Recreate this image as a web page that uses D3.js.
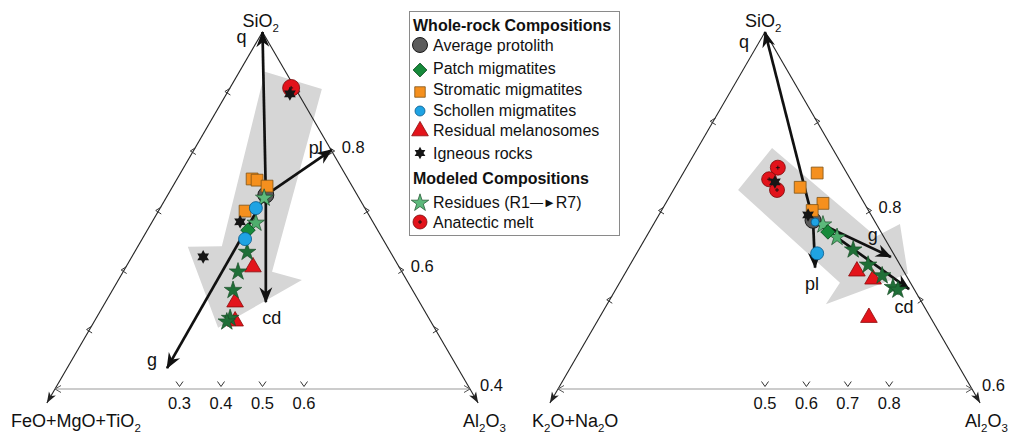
<!DOCTYPE html>
<html>
<head>
<meta charset="utf-8">
<script src="https://cdn.jsdelivr.net/npm/d3@7"></script>
<style>
body { margin: 0; background: #fff; }
svg text { font-family: Arial, "Liberation Sans", sans-serif; fill: #111; }
</style>
</head>
<body>
<svg id="chart" width="1015" height="437"></svg>
<script>
// values as [bottom-axis value, SiO2 value]
var L_protolith = [[0.508, 0.726]];
var L_stromatic = [[0.475, 0.753], [0.487, 0.751], [0.511, 0.741], [0.458, 0.699]];
var L_schollen = [[0.484, 0.704], [0.458, 0.652]];
var L_patch = [[0.465, 0.667]];
var L_melano = [[0.477, 0.605], [0.434, 0.546], [0.434, 0.514]];
var L_igneous = [[0.566, 0.896], [0.446, 0.681], [0.357, 0.622]];
var L_melt = [[0.569, 0.906]];
var L_residues = [[0.504, 0.721], [0.484, 0.679], [0.463, 0.630], [0.441, 0.597],
  [0.429, 0.566], [0.422, 0.519], [0.414, 0.513]];
var L_vectors = [['q', 0.5, 1.0], ['cd', 0.508, 0.546], ['pl', 0.667, 0.802], ['g', 0.270, 0.435]];
var L_shade = [[0.506, 0.933], [0.643, 0.904], [0.523, 0.597], [0.595, 0.583],
  [0.393, 0.503], [0.320, 0.639], [0.402, 0.640]];
var L_bottomTicks = [0.3, 0.4, 0.5, 0.6];
var L_edgeTicks = [0.9, 0.8, 0.7, 0.6, 0.5];
var L_edgeLabels = [0.8, 0.6, 0.4];

var R_protolith = [[0.616, 0.789]];
var R_stromatic = [[0.626, 0.842], [0.585, 0.826], [0.640, 0.808], [0.614, 0.800]];
var R_schollen = [[0.626, 0.752], [0.621, 0.787]];
var R_patch = [[0.652, 0.776]];
var R_melano = [[0.722, 0.732], [0.761, 0.723], [0.751, 0.680]];
var R_igneous = [[0.524, 0.832], [0.604, 0.795]];
var R_melt = [[0.531, 0.848], [0.510, 0.835], [0.529, 0.823]];
var R_residues = [[0.640, 0.784], [0.674, 0.770], [0.713, 0.756], [0.749, 0.739],
  [0.783, 0.727], [0.809, 0.714], [0.821, 0.711]];
var R_vectors = [['q', 0.5, 1.0], ['pl', 0.621, 0.736], ['g', 0.804, 0.748], ['cd', 0.848, 0.712]];
var R_shade = [[0.517, 0.870], [0.768, 0.771], [0.826, 0.785], [0.845, 0.729],
  [0.647, 0.695], [0.681, 0.719], [0.435, 0.823]];
var R_bottomTicks = [0.5, 0.6, 0.7, 0.8];
var R_edgeTicks = [0.9, 0.8, 0.7];
var R_edgeLabels = [0.8, 0.6];

var legendItems = ['Average protolith', 'Patch migmatites', 'Stromatic migmatites',
  'Schollen migmatites', 'Residual melanosomes', 'Igneous rocks'];

var svg = d3.select('#chart');

var defs = svg.append('defs');
defs.append('marker')
  .attr('id', 'head')
  .attr('markerUnits', 'userSpaceOnUse')
  .attr('viewBox', '-16 -8 18 16')
  .attr('markerWidth', 18).attr('markerHeight', 16)
  .attr('refX', 0).attr('refY', 0)
  .attr('orient', 'auto')
  .append('path')
  .attr('d', 'M1,0 L-15,-6.5 L-10,0 L-15,6.5 Z')
  .attr('fill', '#111');
defs.append('marker')
  .attr('id', 'small')
  .attr('markerUnits', 'userSpaceOnUse')
  .attr('viewBox', '-12 -5 13 10')
  .attr('markerWidth', 13).attr('markerHeight', 10)
  .attr('refX', 0).attr('refY', 0)
  .attr('orient', 'auto')
  .append('path')
  .attr('d', 'M0,0 L-11,-4 L-8,0 L-11,4 Z')
  .attr('fill', '#222');

var hexagram = {
  draw: function(ctx, size) {
    var r = Math.sqrt(size) * 0.62, ri = r * 0.56;
    for (var i = 0; i < 12; i++) {
      var a = Math.PI / 6 * i - Math.PI / 2;
      var rr = i % 2 ? ri : r;
      if (i === 0) ctx.moveTo(rr * Math.cos(a), rr * Math.sin(a));
      else ctx.lineTo(rr * Math.cos(a), rr * Math.sin(a));
    }
    ctx.closePath();
  }
};

var starColor = d3.scaleLinear().domain([0, 1, 2]).range(['#5db97b', '#4fae6d', '#1f6f37']).clamp(true);

function subLabel(g, x, y, parts) {
  var t = g.append('text').attr('x', x).attr('y', y).attr('font-size', 18);
  parts.forEach(function(p) {
    if (p[1]) {
      t.append('tspan').attr('font-size', 11.5).attr('dy', 5).text(p[0]);
    } else {
      t.append('tspan').attr('dy', p[2] || 0).text(p[0]);
    }
  });
}

function drawPanel(p) {
  var x = d3.scaleLinear().domain([0, 1]).range(p.xRange);
  var y = d3.scaleLinear().domain([p.sMin, 1]).range([389, 32]);
  var g = svg.append('g');

  var apex = [x(0.5), y(1)], cl = [x(0), y(p.sMin)], cr = [x(1), y(p.sMin)];
  function edgePt(side, s) {
    var t = (s - p.sMin) / (1 - p.sMin);
    var c = side === 'L' ? cl : cr;
    return [c[0] + (apex[0] - c[0]) * t, y(s)];
  }

  // grey trend arrow
  g.append('path')
    .datum(p.shade)
    .attr('d', d3.line().x(function(d) { return x(d[0]); }).y(function(d) { return y(d[1]); })
      .curve(d3.curveLinearClosed))
    .attr('fill', '#d6d6d6');

  // frame
  var ext = 14 / (cl[1] - apex[1]);
  [cl, cr].forEach(function(c) {
    g.append('line')
      .attr('x1', apex[0]).attr('y1', apex[1])
      .attr('x2', c[0] + (c[0] - apex[0]) * ext).attr('y2', c[1] + (c[1] - apex[1]) * ext)
      .attr('stroke', '#222').attr('stroke-width', 1.1)
      .attr('marker-end', 'url(#small)');
  });
  g.append('line')
    .attr('x1', cl[0]).attr('y1', cl[1]).attr('x2', cr[0]).attr('y2', cr[1])
    .attr('stroke', '#999').attr('stroke-width', 1);
  g.append('path')
    .attr('d', 'M' + (cl[0] + 6) + ',' + (cl[1] - 3.5) + 'L' + cl[0] + ',' + cl[1] + 'L' + (cl[0] + 6) + ',' + (cl[1] + 3.5) +
      'M' + (cr[0] - 6) + ',' + (cr[1] - 3.5) + 'L' + cr[0] + ',' + cr[1] + 'L' + (cr[0] - 6) + ',' + (cr[1] + 3.5))
    .attr('fill', 'none').attr('stroke', '#555').attr('stroke-width', 1);

  // ticks
  g.selectAll('.bt').data(p.bottomTicks).enter().append('path')
    .attr('d', function(d) { var tx = x(d); return 'M' + (tx - 3.5) + ',381.5L' + tx + ',386.5L' + (tx + 3.5) + ',381.5'; })
    .attr('fill', 'none').attr('stroke', '#333').attr('stroke-width', 1);
  g.selectAll('.btl').data(p.bottomTicks).enter().append('text')
    .attr('x', function(d) { return x(d); }).attr('y', 409)
    .attr('text-anchor', 'middle').attr('font-size', 16.5)
    .text(function(d) { return d.toFixed(1); });
  g.selectAll('.lt').data(p.edgeTicks).enter().append('path')
    .attr('d', function(d) { var e = edgePt('L', d); return 'M' + (e[0] + 2.5) + ',' + (e[1] - 3.5) + 'L' + (e[0] - 3) + ',' + e[1] + 'L' + (e[0] + 2.5) + ',' + (e[1] + 3.5); })
    .attr('fill', 'none').attr('stroke', '#333').attr('stroke-width', 1);
  g.selectAll('.rt').data(p.edgeTicks).enter().append('path')
    .attr('d', function(d) { var e = edgePt('R', d); return 'M' + (e[0] - 2.5) + ',' + (e[1] - 3.5) + 'L' + (e[0] + 3) + ',' + e[1] + 'L' + (e[0] - 2.5) + ',' + (e[1] + 3.5); })
    .attr('fill', 'none').attr('stroke', '#333').attr('stroke-width', 1);
  g.selectAll('.rtl').data(p.edgeLabels).enter().append('text')
    .attr('x', function(d) { return edgePt('R', d)[0] + 10; })
    .attr('y', function(d) { return edgePt('R', d)[1] + 2; })
    .attr('font-size', 16.5)
    .text(function(d) { return d.toFixed(1); });

  // reaction vectors
  var o = p.protolith[0];
  g.selectAll('.vec').data(p.vectors).enter().append('line')
    .attr('x1', x(o[0])).attr('y1', y(o[1]))
    .attr('x2', function(d) { return x(d[1]); }).attr('y2', function(d) { return y(d[2]); })
    .attr('stroke', '#111').attr('stroke-width', 2.7)
    .attr('marker-end', 'url(#head)');
  g.selectAll('.vl').data(p.vectors.filter(function(d) { return d[0] !== 'q'; })).enter().append('text')
    .attr('x', function(d) { return x(d[1]) + p.vecOff[d[0]][0]; })
    .attr('y', function(d) { return y(d[2]) + p.vecOff[d[0]][1]; })
    .attr('font-size', 18).attr('text-anchor', 'middle')
    .text(function(d) { return d[0]; });

  function place(sel) {
    return sel.attr('transform', function(d) { return 'translate(' + x(d[0]) + ',' + y(d[1]) + ')'; });
  }

  // points
  place(g.selectAll('.melt').data(p.melt).enter().append('g'))
    .each(function() {
      var s = d3.select(this);
      s.append('circle').attr('r', p.meltR).attr('fill', '#e2131b').attr('stroke', '#7a0a0a').attr('stroke-width', 0.8);
      s.append('path').attr('d', 'M-2,0H2M0,-2V2').attr('stroke', '#111').attr('stroke-width', 0.9);
    });
  place(g.selectAll('.prot').data(p.protolith).enter().append('circle'))
    .attr('r', 8).attr('fill', '#5b5b5b').attr('stroke', '#1a1a1a').attr('stroke-width', 1);
  place(g.selectAll('.sq').data(p.stromatic).enter().append('path'))
    .attr('d', d3.symbol(d3.symbolSquare, 140)).attr('fill', '#f5901e').attr('stroke', '#7d5316').attr('stroke-width', 0.8);
  place(g.selectAll('.tri').data(p.melano).enter().append('path'))
    .attr('d', d3.symbol(d3.symbolTriangle, 120)).attr('fill', '#e3141b').attr('stroke', '#8a0a0a').attr('stroke-width', 0.8);
  place(g.selectAll('.res').data(p.residues).enter().append('path'))
    .attr('d', d3.symbol(d3.symbolStar, 95))
    .attr('fill', function(d, i) { return starColor(i); })
    .attr('stroke', '#1a4d28').attr('stroke-width', 0.7);
  place(g.selectAll('.dia').data(p.patch).enter().append('path'))
    .attr('d', d3.symbol(d3.symbolSquare, 105)).attr('fill', '#178a3b').attr('stroke', '#0b4a1e').attr('stroke-width', 0.8)
    .attr('transform', function(d) { return 'translate(' + x(d[0]) + ',' + y(d[1]) + ') rotate(45)'; });
  place(g.selectAll('.sch').data(p.schollen).enter().append('circle'))
    .attr('r', function(d, i) { return p.schollenR[i]; }).attr('fill', '#1fa3e3').attr('stroke', '#0a5a8a').attr('stroke-width', 0.8);
  place(g.selectAll('.ign').data(p.igneous).enter().append('path'))
    .attr('d', d3.symbol(hexagram, 120)).attr('fill', '#161616');

  // corner labels
  subLabel(g, apex[0] - 20, 27, [['SiO'], ['2', true]]);
  g.append('text').attr('x', apex[0] + p.qOff[0]).attr('y', p.qOff[1]).attr('font-size', 18).text('q');
  subLabel(g, p.leftLabel.x, 427, p.leftLabel.parts);
  subLabel(g, cr[0] - 7, 427, [['Al'], ['2', true], ['O', false, -5], ['3', true]]);
}

drawPanel({
  xRange: [55, 470], sMin: 0.4,
  protolith: L_protolith, stromatic: L_stromatic, schollen: L_schollen, schollenR: [6.5, 6.5],
  patch: L_patch, melano: L_melano, igneous: L_igneous, melt: L_melt, meltR: 8.5,
  residues: L_residues, vectors: L_vectors, shade: L_shade,
  bottomTicks: L_bottomTicks, edgeTicks: L_edgeTicks, edgeLabels: L_edgeLabels,
  vecOff: { cd: [6, 22], pl: [-16, 4], g: [-15, -2] },
  qOff: [-26, 43],
  leftLabel: { x: 11, parts: [['FeO+MgO+TiO'], ['2', true]] }
});
drawPanel({
  xRange: [558, 972], sMin: 0.6,
  protolith: R_protolith, stromatic: R_stromatic, schollen: R_schollen, schollenR: [6.5, 4],
  patch: R_patch, melano: R_melano, igneous: R_igneous, melt: R_melt, meltR: 7.5,
  residues: R_residues, vectors: R_vectors, shade: R_shade,
  bottomTicks: R_bottomTicks, edgeTicks: R_edgeTicks, edgeLabels: R_edgeLabels,
  vecOff: { pl: [-3, 22], g: [-18, -16], cd: [-5, 24] },
  qOff: [-26, 48],
  leftLabel: { x: 532, parts: [['K'], ['2', true], ['O+Na', false, -5], ['2', true], ['O', false, -5]] }
});

// legend
var lg = svg.append('g');
lg.append('rect').attr('x', 409.5).attr('y', 11.5).attr('width', 210).attr('height', 224)
  .attr('fill', '#fff').attr('stroke', '#8a8a8a').attr('stroke-width', 1);
lg.append('text').attr('x', 413).attr('y', 31).attr('font-size', 16).attr('font-weight', 'bold').text('Whole-rock Compositions');
lg.append('text').attr('x', 413).attr('y', 184).attr('font-size', 16).attr('font-weight', 'bold').text('Modeled Compositions');
var rowY = [45, 68, 89, 110, 130, 153];
lg.selectAll('.li').data(legendItems).enter().append('text')
  .attr('x', 433).attr('y', function(d, i) { return rowY[i] + 6; })
  .attr('font-size', 16).text(function(d) { return d; });
lg.append('circle').attr('cx', 420).attr('cy', rowY[0]).attr('r', 7.5).attr('fill', '#5b5b5b').attr('stroke', '#1a1a1a');
lg.append('path').attr('d', d3.symbol(d3.symbolSquare, 95)).attr('fill', '#178a3b').attr('stroke', '#0b4a1e').attr('stroke-width', 0.8)
  .attr('transform', 'translate(420,' + (rowY[1] + 2) + ') rotate(45)');
lg.append('path').attr('d', d3.symbol(d3.symbolSquare, 110)).attr('fill', '#f5901e').attr('stroke', '#7d5316').attr('stroke-width', 0.8)
  .attr('transform', 'translate(420,' + (rowY[2] + 3) + ')');
lg.append('circle').attr('cx', 420).attr('cy', rowY[3] + 1).attr('r', 5).attr('fill', '#1fa3e3').attr('stroke', '#0a5a8a').attr('stroke-width', 0.8);
lg.append('path').attr('d', d3.symbol(d3.symbolTriangle, 120)).attr('fill', '#e3141b').attr('stroke', '#8a0a0a').attr('stroke-width', 0.8)
  .attr('transform', 'translate(420,' + (rowY[4] + 1) + ')');
lg.append('path').attr('d', d3.symbol(hexagram, 100)).attr('fill', '#161616')
  .attr('transform', 'translate(420,' + rowY[5] + ')');
var rt = lg.append('text').attr('x', 433).attr('y', 208).attr('font-size', 16);
rt.append('tspan').text('Residues (R1');
rt.append('tspan').attr('font-size', 13).attr('dy', -1).text('\u2014\u25BA');
rt.append('tspan').attr('dy', 1).text('R7)');
lg.append('path').attr('d', d3.symbol(d3.symbolStar, 95)).attr('fill', '#5db97b').attr('stroke', '#1a4d28').attr('stroke-width', 0.7)
  .attr('transform', 'translate(420,203)');
lg.append('text').attr('x', 433).attr('y', 228).attr('font-size', 16).text('Anatectic melt');
lg.append('circle').attr('cx', 420).attr('cy', 222).attr('r', 7).attr('fill', '#e2131b').attr('stroke', '#7a0a0a').attr('stroke-width', 0.8);
lg.append('path').attr('d', 'M418,222H422M420,220V224').attr('stroke', '#111').attr('stroke-width', 0.9);
</script>
</body>
</html>
